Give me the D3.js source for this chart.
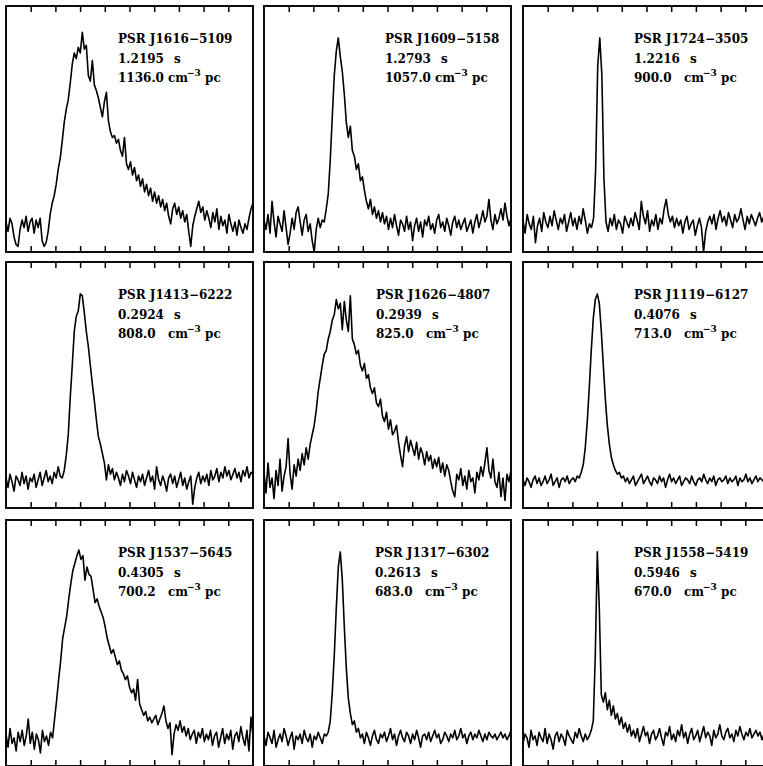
<!DOCTYPE html>
<html><head><meta charset="utf-8">
<script src="https://cdn.jsdelivr.net/npm/d3@7"></script>
<style>body{margin:0;background:#fff}svg{display:block}</style>
</head><body>
<script>
// ---------------- data ----------------
const names = ["PSR J1616\u22125109","PSR J1609\u22125158","PSR J1724\u22123505",
               "PSR J1413\u22126222","PSR J1626\u22124807","PSR J1119\u22126127",
               "PSR J1537\u22125645","PSR J1317\u22126302","PSR J1558\u22125419"];
const periods = ["1.2195","1.2793","1.2216","0.2924","0.2939","0.4076","0.4305","0.2613","0.5946"];
const dms = ["1136.0","1057.0","900.0","808.0","825.0","713.0","700.2","683.0","670.0"];
const tickPhases = [0.1,0.2,0.3,0.4,0.5,0.6,0.7,0.8,0.9];

const profJ1616 = [2,-3,4,1,-6,-10,-11,-2,3,-1,5,-3,2,4,-4,3,-1,4,-8,-11,-9,-3,6,12,16,22,30,36,45,55,62,67,76,86,92,89,95,92,103,94,96,80,77,88,75,72,68,63,58,66,71,56,50,47,48,44,46,40,37,47,33,30,34,27,31,24,27,21,25,18,22,16,20,13,18,12,16,10,14,8,12,5,1,9,12,6,10,4,8,2,6,-3,-11,0,5,9,13,7,10,3,8,4,-1,7,2,9,-2,5,0,3,-4,6,1,-3,2,-5,3,-1,-4,1,-2,4,9,12];
const profJ1609 = [3,-2,6,-4,13,2,-6,5,1,-3,8,-1,-10,-4,4,-2,7,10,2,-5,3,6,-3,1,-8,-14,-2,4,-1,3,2,9,17,35,58,80,93,100,90,82,70,55,47,53,40,37,30,33,24,26,19,13,9,14,6,10,4,8,2,7,1,5,-2,4,-1,6,0,-5,3,1,-3,5,-2,2,-8,0,4,-3,2,-6,3,0,5,-2,1,-4,3,6,-1,2,-3,4,0,-5,2,5,-1,3,-2,1,4,-3,0,3,-4,2,6,-1,3,8,2,5,14,3,-2,6,1,4,9,3,12,5,0,4];
const profJ1724 = [3,-4,6,1,-2,5,-9,0,4,-3,7,2,-1,5,0,8,3,-2,4,1,6,-3,2,7,0,4,-2,5,1,9,3,-4,1,-1,4,30,85,100,80,25,2,-3,4,0,6,-2,3,1,-4,5,2,-1,4,0,7,3,-2,13,5,1,8,-3,3,0,6,-2,4,1,9,14,6,2,5,-1,4,0,3,-4,2,5,-2,1,3,-5,0,4,-1,-14,-3,2,5,1,6,-2,4,8,2,5,0,7,3,-1,6,2,4,9,3,-2,5,1,6,3,0,4,7,2,5,1,3,6];
const profJ1413 = [2,-3,4,0,-5,3,1,-2,5,-1,3,-4,2,0,4,-3,1,5,-2,2,6,0,3,-1,5,2,8,3,2,6,14,25,45,62,80,88,91,100,99,90,80,72,62,52,43,33,24,20,15,10,1,9,4,7,1,5,2,-2,4,0,6,3,-1,5,1,-3,3,0,4,-2,2,6,0,3,-4,8,1,-2,3,0,-5,2,4,-1,3,-3,1,5,-2,2,-4,0,3,-12,-3,2,5,-1,3,0,4,-2,6,1,3,7,0,5,2,8,3,6,1,4,7,2,5,0,6,3,8,2,5,4];
const profJ1626 = [5,-6,10,-3,2,-9,6,-2,12,-5,3,8,23,4,-4,9,3,12,6,15,9,18,12,20,25,30,38,48,55,62,68,70,76,80,86,89,97,92,95,81,96,86,80,99,76,73,68,70,62,59,63,55,57,50,47,50,42,40,44,35,32,37,28,33,25,27,30,21,14,8,19,24,16,22,18,14,21,12,18,15,9,16,11,14,7,12,8,13,5,10,3,9,6,0,-5,-8,4,1,7,-2,3,-4,6,0,2,-6,5,1,8,3,10,18,6,2,12,0,-3,5,-8,2,-10,4,0,6];
const profJ1119 = [1,-2,2,0,-3,1,3,-1,2,-2,0,3,-1,1,4,-2,0,2,-3,1,2,0,3,-1,1,2,0,3,2,5,9,18,32,50,70,87,97,100,95,80,62,44,30,20,13,9,6,4,5,2,3,0,2,-1,1,3,-2,0,2,4,-1,1,3,0,-2,2,1,-1,3,0,2,-3,1,4,0,2,-1,1,3,-2,0,2,1,-1,3,0,-2,1,2,0,4,1,-1,2,0,3,-2,1,2,0,1,3,-1,2,0,1,3,-2,2,0,1,4,0,2,-1,1,3,0,2,1,0,2,1,3];
const profJ1537 = [3,-4,6,-2,1,-6,4,-1,5,-3,2,11,-2,4,-5,3,0,-7,5,-1,2,-3,4,1,11,21,32,42,54,60,66,75,83,90,94,98,101,96,98,85,92,88,87,80,73,75,71,68,65,60,54,50,46,48,44,40,42,37,35,32,34,28,25,27,21,32,19,16,13,15,10,12,9,11,13,8,11,14,18,10,6,9,-8,3,8,5,10,4,7,2,6,0,3,5,-2,4,1,6,-1,3,0,5,-3,2,4,-4,1,6,-2,3,0,5,-5,2,4,-1,7,1,-3,5,-6,12,2];
const profJ1317 = [2,-3,4,1,-2,5,-4,0,3,-1,6,2,-3,1,4,-5,2,0,3,-2,5,1,-1,3,-4,2,0,4,1,-2,3,2,4,10,25,45,70,92,100,85,60,38,22,14,8,10,4,6,1,3,-2,4,1,-3,2,5,0,-2,3,1,4,-1,2,6,0,3,-3,2,5,1,-1,4,2,-2,3,0,5,1,-4,2,3,0,4,-1,2,5,1,3,-2,0,4,2,-1,3,1,5,0,2,6,1,3,-2,2,4,0,3,1,5,2,-1,3,0,4,2,1,3,0,2,4,1,3,0,2,5];
const profJ1558 = [-2,3,1,-4,5,0,2,-3,4,1,-1,6,-2,3,0,-5,2,4,-1,3,1,-3,5,2,0,-2,4,1,6,2,-1,3,0,2,5,10,45,100,70,24,20,25,16,21,13,18,11,14,8,12,6,9,4,8,2,5,1,6,-1,3,7,2,4,-2,3,5,0,2,6,1,-3,4,2,7,0,3,-1,5,2,8,1,4,-2,3,6,0,2,5,-1,3,7,1,4,2,-3,5,1,3,8,2,0,4,6,1,3,-1,5,2,7,3,0,4,2,6,1,3,5,2,4,0,3,6,1,4];
const profiles = [profJ1616, profJ1609, profJ1724, profJ1413, profJ1626, profJ1119, profJ1537, profJ1317, profJ1558];

// ---------------- layout ----------------
const W = 763, H = 766;
const colLeft = [6, 264, 523], rowTop = [6, 262, 520];
const PW = 247, PH = 246;
const labelDx = [112, 121, 111, 112, 112, 111, 112, 111, 111];
const FONT = "'DejaVu Serif', serif";

const svg = d3.select("body").append("svg").attr("width", W).attr("height", H);
svg.append("rect").attr("width", W).attr("height", H).attr("fill", "#fff");

const y = d3.scaleLinear().domain([-14, 117]).range([PH, 0]);
const xp = d3.scaleLinear().domain([0, 1]).range([0, PW]);

profiles.forEach((prof, k) => {
  const col = k % 3, row = Math.floor(k / 3);
  const g = svg.append("g").attr("transform", `translate(${colLeft[col]},${rowTop[row]})`);
  const x = d3.scaleLinear().domain([0, prof.length - 1]).range([0, PW]);
  const cid = "clip" + k;
  g.append("clipPath").attr("id", cid).append("rect").attr("width", PW).attr("height", PH);
  g.append("path").datum(prof)
    .attr("clip-path", `url(#${cid})`)
    .attr("fill", "none").attr("stroke", "#000").attr("stroke-width", 1.6)
    .attr("stroke-linejoin", "round")
    .attr("d", d3.line().x((d, i) => x(i)).y(d => y(d)));
  g.append("rect").attr("width", PW).attr("height", PH)
    .attr("fill", "none").attr("stroke", "#000").attr("stroke-width", 1.9);
  const top = g.append("g").call(d3.axisTop(xp).tickValues(tickPhases).tickSize(-6).tickFormat(""));
  const bot = g.append("g").attr("transform", `translate(0,${PH})`)
    .call(d3.axisBottom(xp).tickValues(tickPhases).tickSize(-6).tickFormat(""));
  [top, bot].forEach(a => { a.select(".domain").remove(); a.selectAll("line").attr("stroke", "#000").attr("stroke-width", 1.5); });

  const lx = labelDx[k];
  const t = g.append("g").attr("font-family", FONT).attr("font-weight", "bold").attr("font-size", 12).attr("fill", "#000");
  t.append("text").attr("x", lx).attr("y", 37).text(names[k]);
  const l2 = t.append("text").attr("y", 57);
  l2.append("tspan").attr("x", lx).text(periods[k]);
  l2.append("tspan").attr("x", lx + 56).text("s");
  const l3 = t.append("text").attr("y", 76);
  l3.append("tspan").attr("x", lx).text(dms[k]);
  l3.append("tspan").attr("x", lx + 50).text("cm");
  l3.append("tspan").attr("x", lx + 69).attr("dy", -6).attr("font-size", 9).text("\u22123");
  l3.append("tspan").attr("x", lx + 87).attr("dy", 6).text("pc");
});
</script>
</body></html>
